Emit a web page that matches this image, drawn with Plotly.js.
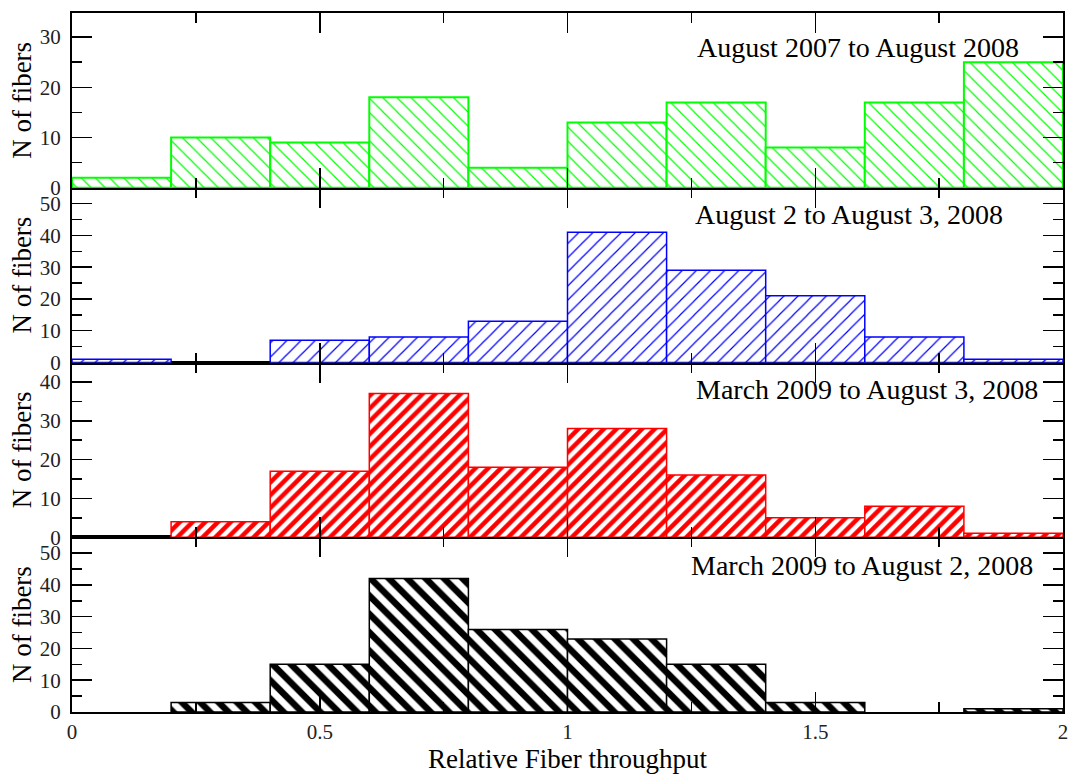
<!DOCTYPE html>
<html>
<head>
<meta charset="utf-8">
<script src="https://cdn.plot.ly/plotly-3.0.1.min.js"></script>
<style>html,body{margin:0;padding:0;background:#fff;}#chart{width:1071px;height:774px;}</style>
</head>
<body>
<div id="chart"></div>
<script>
// Bin centers of relative fiber throughput (bin width 0.2)
const binCenters = [0.1, 0.3, 0.5, 0.7, 0.9, 1.1, 1.3, 1.5, 1.7, 1.9];
const binWidth = 0.2;

const labels = [
  "August 2007 to August 2008",
  "August 2 to August 3, 2008",
  "March 2009 to August 3, 2008",
  "March 2009 to August 2, 2008"
];
const aug07ToAug08 = [2, 10, 9, 18, 4, 13, 17, 8, 17, 25];
const aug2ToAug3   = [1, 0, 7, 8, 13, 41, 29, 21, 8, 1];
const mar09ToAug3  = [0, 4, 17, 37, 18, 28, 16, 5, 8, 1];
const mar09ToAug2  = [0, 3, 15, 42, 26, 23, 15, 3, 0, 1];

const xTickVals = [0, 0.5, 1, 1.5, 2];
const xTickText = ["0", "0.5", "1", "1.5", "2"];

const font = "Liberation Serif";

const series = [
  {y: aug07ToAug08, color: "#00ff00", shape: "\\", size: 10, sol: 0.12, lw: 2,   xa: "x4", ya: "y4"},
  {y: aug2ToAug3,   color: "#0000ff", shape: "/",  size: 10, sol: 0.12, lw: 1.5, xa: "x3", ya: "y3"},
  {y: mar09ToAug3,  color: "#ff0000", shape: "/",  size: 9,  sol: 0.5,  lw: 1.5, xa: "x2", ya: "y2"},
  {y: mar09ToAug2,  color: "#000000", shape: "\\", size: 13, sol: 0.5,  lw: 1.5, xa: "x",  ya: "y"}
];

const data = series.map(s => ({
  type: "bar",
  x: binCenters,
  y: s.y.map(v => (v === 0 ? null : v)),
  width: binWidth,
  xaxis: s.xa,
  yaxis: s.ya,
  marker: {
    color: "white",
    pattern: {shape: s.shape, fgcolor: s.color, bgcolor: "white", size: s.size, solidity: s.sol},
    line: {color: s.color, width: s.lw}
  },
  showlegend: false,
  hoverinfo: "x+y"
}));

function xAx(showLabels, anchor) {
  return {
    range: [0, 2], anchor: anchor,
    showline: true, linecolor: "black", linewidth: 2, mirror: "ticks",
    ticks: "inside", ticklen: 20, tickwidth: 1.5, tickcolor: "black",
    tickvals: xTickVals, ticktext: xTickText, showticklabels: showLabels,
    minor: {dtick: 0.25, ticks: "inside", ticklen: 10, tickwidth: 1.5, tickcolor: "black", showgrid: false},
    showgrid: false, zeroline: false,
    tickfont: {family: font, size: 21, color: "#222"}
  };
}
function yAx(dom, maxY, anchor) {
  return {
    domain: dom, range: [0, maxY], anchor: anchor,
    showline: true, linecolor: "black", linewidth: 2, mirror: "ticks",
    ticks: "inside", ticklen: 20, tickwidth: 1.5, tickcolor: "black",
    dtick: 10, tick0: 0, ticklabelstandoff: 5,
    minor: {dtick: 5, ticks: "inside", ticklen: 10, tickwidth: 1.5, tickcolor: "black", showgrid: false},
    showgrid: false, zeroline: false,
    tickfont: {family: font, size: 21, color: "#222"},
    title: {text: "N of fibers", font: {family: font, size: 27, color: "black"}, standoff: 0}
  };
}

const xt = xAx(true, "y");
xt.title = {text: "Relative Fiber throughput", font: {family: font, size: 27, color: "black"}, standoff: 6};

const annY = [0.805, 0.845, 0.843, 0.84];
const annX = [0.958, 0.941, 0.977, 0.972];
const annRefs = ["y4 domain", "y3 domain", "y2 domain", "y domain"];

const layout = {
  width: 1071, height: 774,
  margin: {l: 72, r: 8, t: 13, b: 62},
  paper_bgcolor: "white", plot_bgcolor: "white",
  bargap: 0,
  font: {family: font, size: 20},
  xaxis: xt,
  xaxis2: Object.assign(xAx(false, "y2"), {matches: "x"}),
  xaxis3: Object.assign(xAx(false, "y3"), {matches: "x"}),
  xaxis4: Object.assign(xAx(false, "y4"), {matches: "x"}),
  yaxis: yAx([0, 0.25], 55, "x"),
  yaxis2: yAx([0.25, 0.5], 45, "x2"),
  yaxis3: yAx([0.5, 0.75], 55, "x3"),
  yaxis4: yAx([0.75, 1], 34.8, "x4"),
  annotations: labels.map((t, i) => ({
    text: t, xref: "paper", yref: annRefs[i], x: annX[i], y: annY[i],
    xanchor: "right", yanchor: "middle", showarrow: false,
    font: {family: font, size: 28, color: "black"}
  }))
};

Plotly.newPlot("chart", data, layout, {displayModeBar: false, staticPlot: true});
</script>
</body>
</html>
